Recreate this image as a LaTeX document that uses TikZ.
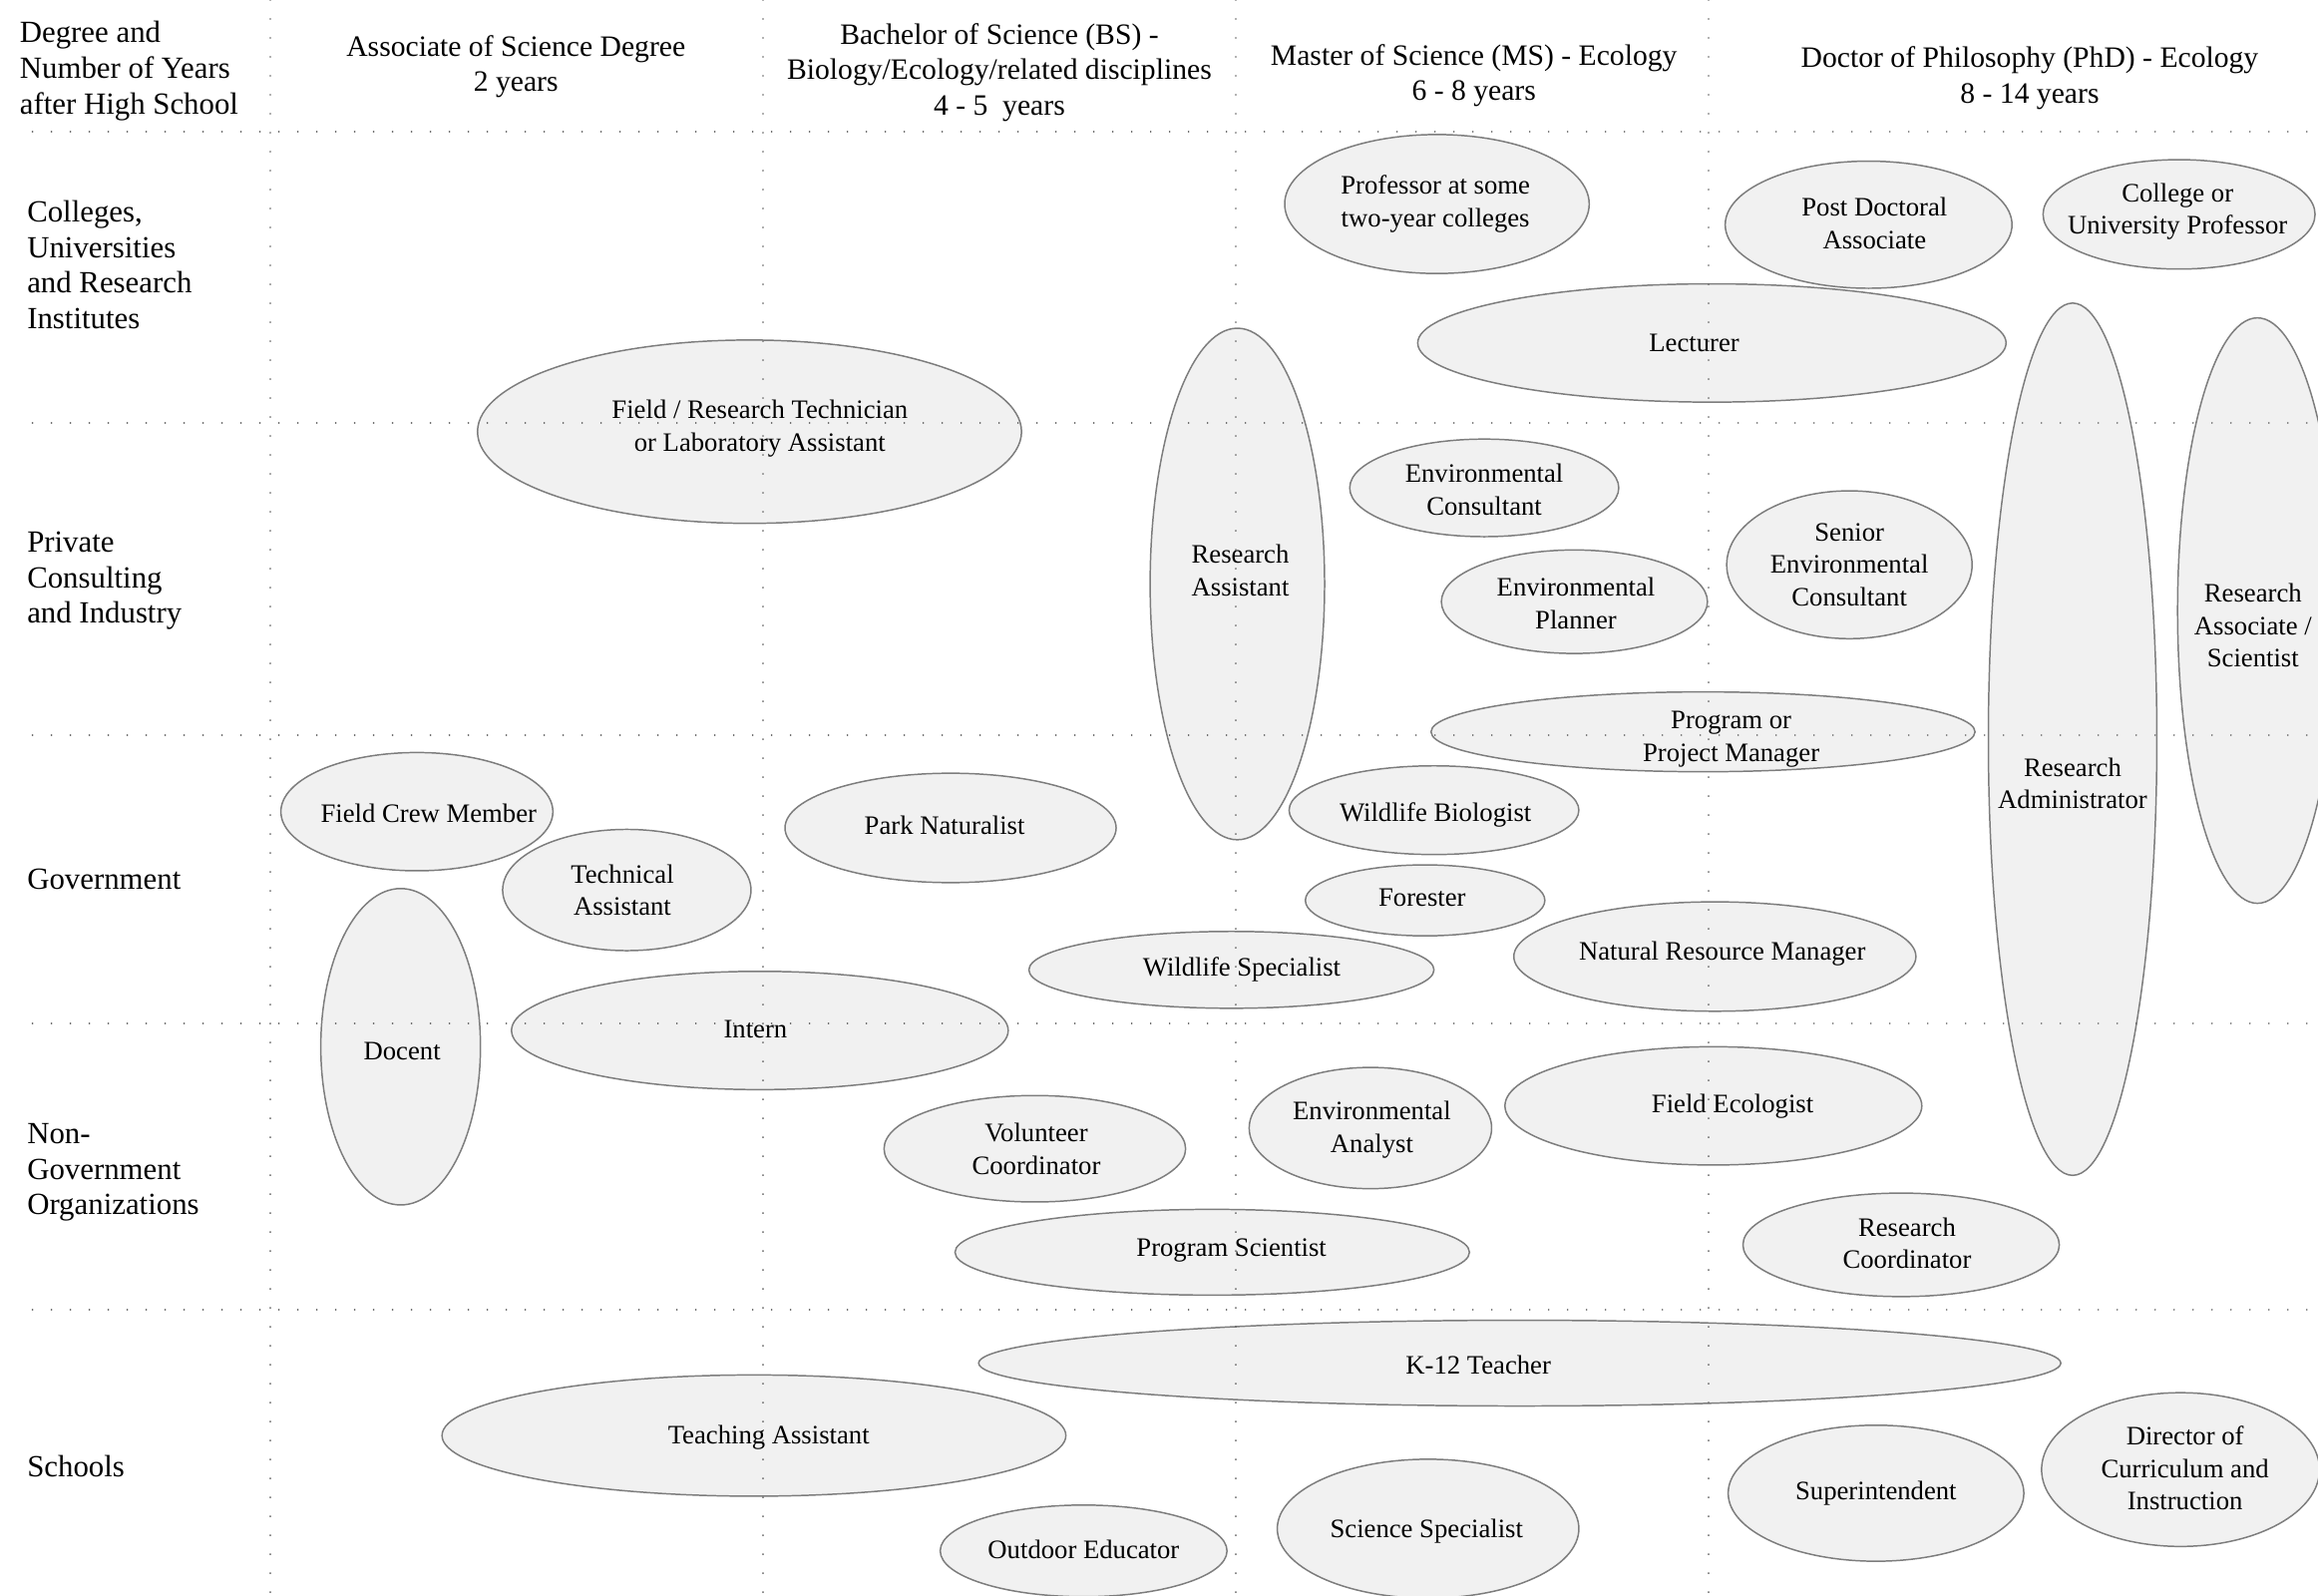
\documentclass[tikz,border=0pt]{standalone}
\usepackage{fontspec}
\setmainfont{Liberation Serif}
\usetikzlibrary{shapes.geometric}
\pgfdeclarelayer{fg}
\pgfsetlayers{main,fg}
\definecolor{ellfill}{RGB}{241,241,241}
\definecolor{elldraw}{RGB}{125,125,125}
\tikzset{
  job/.style={ellipse, draw=elldraw, fill=ellfill, line width=0.5pt, inner sep=0pt},
  jobtext/.style={align=center, font=\fontsize{9}{11}\selectfont, inner sep=0pt},
  head/.style={align=center, font=\fontsize{10}{12}\selectfont, inner sep=0pt},
  rowlab/.style={align=left, anchor=west, font=\fontsize{10.4}{12}\selectfont, inner sep=0pt},
  gridline/.style={line width=0.6pt, black!60, dash pattern=on 0.01pt off 6.4pt, line cap=round},
}
\newcommand\jobnode[8]{%
  \node[job, minimum width=#4pt, minimum height=#5pt] (#1) at (#2,#3) {};
  \node[jobtext] (#1-t) at (#6,#7) {#8};}
\begin{document}
\begin{tikzpicture}[x=0.5pt,y=-0.5pt]
\useasboundingbox (0,0) rectangle (1568,1079);
\clip (0,0) rectangle (1568,1079);

% headers
\node[rowlab] (h0) at (13,48) {Degree and\\Number of Years\\after High School};
\node[head] (h1) at (349,45) {Associate of Science Degree\\2 years};
\node[head] (h2) at (676,49) {Bachelor of Science (BS) -\\Biology/Ecology/related disciplines\\4 - 5\ \ years};
\node[head] (h3) at (997,51) {Master of Science (MS) - Ecology\\6 - 8 years};
\node[head] (h4) at (1373,53) {Doctor of Philosophy (PhD) - Ecology\\8 - 14 years};

% row labels
\node[rowlab] (r1) at (18,179) {Colleges,\\Universities\\and Research\\Institutes};
\node[rowlab] (r2) at (18,393) {Private\\Consulting\\and Industry};
\node[rowlab] (r3) at (18,595) {Government};
\node[rowlab] (r4) at (18,793) {Non-\\Government\\Organizations};
\node[rowlab] (r5) at (18,992) {Schools};

% jobs: name, cx, cy, rx, ry, tx, ty, text
\jobnode{prof2}{972}{138}{103}{47}{971}{138}{Professor at some\\two-year colleges}
\jobnode{postdoc}{1264}{152}{97}{43}{1268}{151}{Post Doctoral\\Associate}
\jobnode{univprof}{1474}{145}{92}{37}{1473}{143}{College or\\University Professor}
\jobnode{lecturer}{1158}{232}{199}{40}{1146}{232}{Lecturer}
\jobnode{fieldtech}{507}{292}{184}{62}{514}{290}{Field / Research Technician\\or Laboratory Assistant}
\jobnode{resassist}{837}{395}{59}{173}{839}{386}{Research\\Assistant}
\jobnode{envcons}{1004}{330}{91}{33}{1004}{331}{Environmental\\Consultant}
\jobnode{envplan}{1065}{407}{90}{35}{1066}{408}{Environmental\\Planner}
\jobnode{senior}{1251}{382}{83}{50}{1251}{382}{Senior\\Environmental\\Consultant}
\jobnode{resadmin}{1402}{500}{57}{295}{1402}{530}{Research\\Administrator}
\jobnode{resassoc}{1527}{413}{54}{198}{1524}{423}{Research\\Associate /\\Scientist}
\jobnode{progman}{1152}{495}{184}{27}{1171}{500}{Program or\\Project Manager}
\jobnode{fieldcrew}{282}{549}{92}{40}{290}{550}{Field Crew Member}
\jobnode{techassist}{424}{602}{84}{41}{421}{602}{Technical\\Assistant}
\jobnode{docent}{271}{708}{54}{107}{272}{711}{Docent}
\jobnode{parknat}{643}{560}{112}{37}{639}{558}{Park Naturalist}
\jobnode{wildbio}{970}{548}{98}{30}{971}{551}{Wildlife Biologist}
\jobnode{forester}{964}{609}{81}{24}{962}{607}{Forester}
\jobnode{natres}{1160}{647}{136}{37}{1165}{645}{Natural Resource Manager}
\jobnode{wildspec}{833}{656}{137}{26}{840}{656}{Wildlife Specialist}
\jobnode{intern}{514}{697}{168}{40}{511}{696}{Intern}
\jobnode{volcoord}{700}{777}{102}{36}{701}{777}{Volunteer\\Coordinator}
\jobnode{envanal}{927}{763}{82}{41}{928}{764}{Environmental\\Analyst}
\jobnode{fieldeco}{1159}{748}{141}{40}{1172}{748}{Field Ecologist}
\jobnode{progsci}{820}{847}{174}{29}{833}{846}{Program Scientist}
\jobnode{rescoord}{1286}{842}{107}{35}{1290}{841}{Research\\Coordinator}
\jobnode{k12}{1028}{922}{366}{29}{1000}{923}{K-12 Teacher}
\jobnode{teachassist}{510}{971}{211}{41}{520}{972}{Teaching Assistant}
\jobnode{superint}{1269}{1010}{100}{46}{1269}{1010}{Superintendent}
\jobnode{director}{1475}{994}{94}{52}{1478}{993}{Director of\\Curriculum and\\Instruction}
\jobnode{outdoor}{733}{1049}{97}{31}{733}{1048}{Outdoor Educator}
\jobnode{scispec}{966}{1034}{102}{47}{965}{1036}{Science Specialist}

% dotted grid on top
\begin{pgfonlayer}{fg}
\coordinate (v1t) at (183,0);  \coordinate (v1b) at (183,1079);
\coordinate (v2t) at (516,0);  \coordinate (v2b) at (516,1079);
\coordinate (v3t) at (836,0);  \coordinate (v3b) at (836,1079);
\coordinate (v4t) at (1156,0); \coordinate (v4b) at (1156,1079);
\foreach \i in {1,...,4} {\draw[gridline] (v\i t) -- (v\i b);}
\coordinate (g1l) at (22,89);  \coordinate (g1r) at (1568,89);
\coordinate (g2l) at (22,286); \coordinate (g2r) at (1568,286);
\coordinate (g3l) at (22,497); \coordinate (g3r) at (1568,497);
\coordinate (g4l) at (22,692); \coordinate (g4r) at (1568,692);
\coordinate (g5l) at (22,886); \coordinate (g5r) at (1568,886);
\foreach \i in {1,...,5} {\draw[gridline] (g\i l) -- (g\i r);}
\end{pgfonlayer}
\end{tikzpicture}
\end{document}
